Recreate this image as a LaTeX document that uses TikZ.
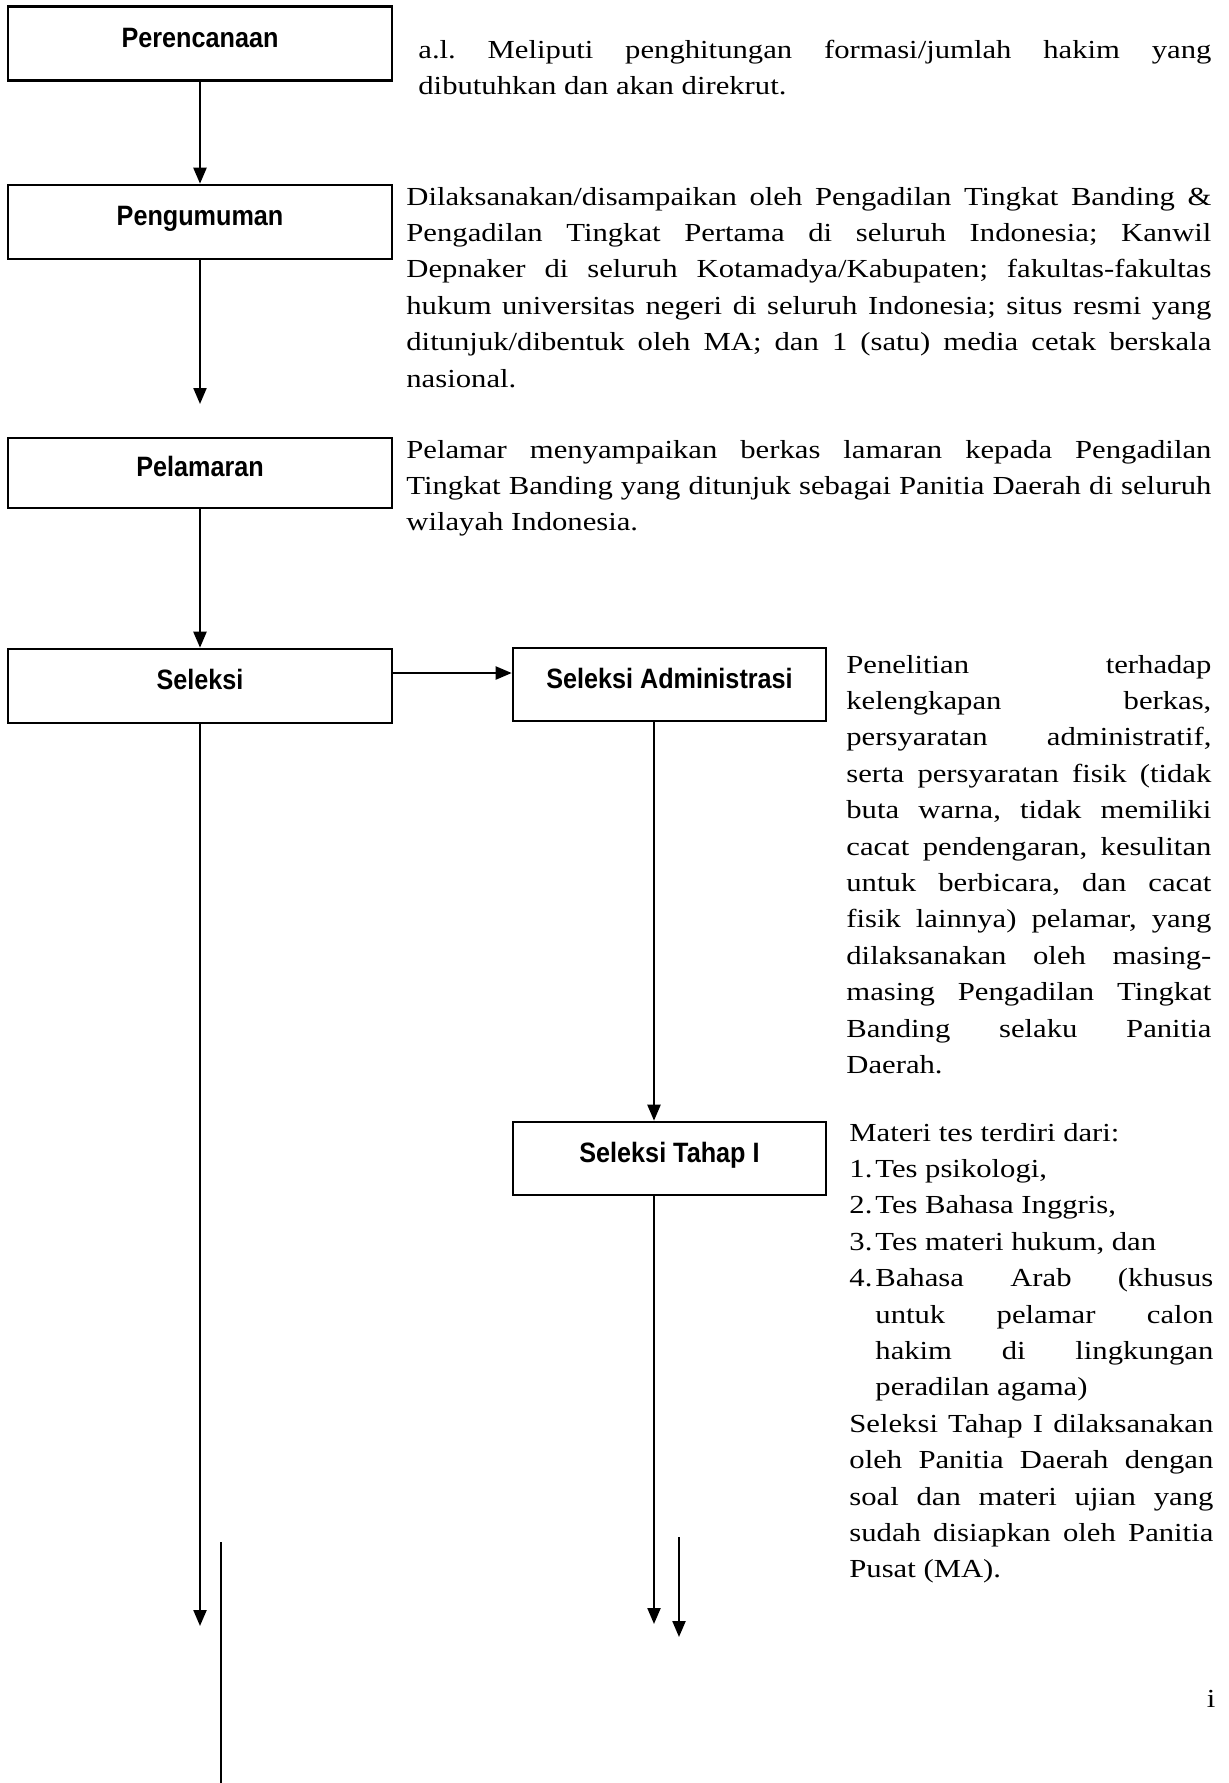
\documentclass[tikz,border=0pt]{standalone}
\usepackage{fontspec}
\usepackage{tikz}
\usetikzlibrary{arrows.meta}
\newfontfamily\kotakfont{Liberation Sans}[FakeStretch=0.9]
\newfontfamily\isifont{Liberation Serif}[FakeStretch=1.18]
\newcommand\isiteks{\isifont\fontsize{13}{18.2}\selectfont\frenchspacing
  \parindent=0pt\tolerance=10000\hyphenpenalty=10000\exhyphenpenalty=10000}
\newcommand\butir[2]{\par\hangindent=13pt\hangafter=1\noindent\makebox[13pt][l]{#1}#2\par}
\tikzset{>={Triangle[length=8pt,width=6.5pt]}}
\tikzset{kotak/.style = {draw,line width=1.3pt,minimum width=192pt,minimum height=37pt,inner sep=0pt,
    font=\kotakfont\bfseries\fontsize{14}{16}\selectfont,text height=9.5pt,text depth=6pt}}
\tikzset{ket/.style = {anchor=base west,inner sep=0pt,align=justify,font=\isiteks}}
\tikzset{panah/.style = {->,line width=1.1pt}}

\begin{document}
\begin{tikzpicture}[x=0.5pt,y=-0.5pt]
    \useasboundingbox (0,0) rectangle (1228,1783);

    \node[kotak] (rencana) at (200,43.5) {Perencanaan};
    \node[kotak] (umum) at (200,222) {Pengumuman};
    \node[kotak,minimum height=35pt] (lamar) at (200,473) {Pelamaran};
    \node[kotak] (seleksi) at (200,686) {Seleksi};
    \node[kotak,minimum width=156.5pt,minimum height=36.5pt] (adm) at (669.5,684.5) {Seleksi Administrasi};
    \node[kotak,minimum width=156.5pt,minimum height=36.5pt] (tahap) at (669.5,1158.5) {Seleksi Tahap I};

    \node[ket,text width=396.5pt] (ketrencana) at (418,58)
        {a.l. Meliputi penghitungan formasi/jumlah hakim yang\linebreak dibutuhkan dan akan direkrut.};
    \node[ket,text width=402.5pt] (ketumum) at (406,205)
        {Dilaksanakan/disampaikan oleh Pengadilan Tingkat Banding \&\linebreak
         Pengadilan Tingkat Pertama di seluruh Indonesia; Kanwil\linebreak
         Depnaker di seluruh Kotamadya/Kabupaten; fakultas-fakultas\linebreak
         hukum universitas negeri di seluruh Indonesia; situs resmi yang\linebreak
         ditunjuk/dibentuk oleh MA; dan 1 (satu) media cetak berskala\linebreak
         nasional.};
    \node[ket,text width=402.5pt] (ketlamar) at (406,458)
        {Pelamar menyampaikan berkas lamaran kepada Pengadilan\linebreak
         Tingkat Banding yang ditunjuk sebagai Panitia Daerah di seluruh\linebreak
         wilayah Indonesia.};
    \node[ket,text width=182.5pt] (ketadm) at (846,673)
        {Penelitian terhadap\linebreak kelengkapan berkas,\linebreak
         persyaratan administratif,\linebreak serta persyaratan fisik (tidak\linebreak
         buta warna, tidak memiliki\linebreak cacat pendengaran, kesulitan\linebreak
         untuk berbicara, dan cacat\linebreak fisik lainnya) pelamar, yang\linebreak
         dilaksanakan oleh masing-\linebreak masing Pengadilan Tingkat\linebreak
         Banding selaku Panitia\linebreak Daerah.};
    \node[ket,text width=182pt] (kettahap) at (849,1141)
        {Materi tes terdiri dari:\par
         \butir{1.}{Tes psikologi,}
         \butir{2.}{Tes Bahasa Inggris,}
         \butir{3.}{Tes materi hukum, dan}
         \butir{4.}{Bahasa Arab (khusus\linebreak untuk pelamar calon\linebreak
                    hakim di lingkungan\linebreak peradilan agama)}
         Seleksi Tahap I dilaksanakan\linebreak oleh Panitia Daerah dengan\linebreak
         soal dan materi ujian yang\linebreak sudah disiapkan oleh Panitia\linebreak
         Pusat (MA).};
    \node[font=\isiteks,anchor=base,inner sep=0pt] (hal) at (1211,1707) {i};

    \coordinate (ujungumum) at (200,404);
    \coordinate (ujungseleksi) at (200,1626);
    \coordinate (ujungtahap) at (654,1624);
    \coordinate (panahatas) at (679,1537);
    \coordinate (panahbawah) at (679,1637);
    \coordinate (garisatas) at (221,1542);
    \coordinate (garisbawah) at (221,1783);

    \draw[panah] (rencana) -- (umum);
    \draw[panah] (umum) -- (ujungumum);
    \draw[panah] (lamar) -- (seleksi);
    \draw[panah] ([yshift=6.5pt]seleksi.east) -- ([yshift=6.5pt]seleksi.east -| adm.west);
    \draw[panah] ([xshift=-7.75pt]adm.south) -- ([xshift=-7.75pt]tahap.north);
    \draw[panah] ([xshift=-7.75pt]tahap.south) -- (ujungtahap);
    \draw[panah] (seleksi) -- (ujungseleksi);
    \draw[panah] (panahatas) -- (panahbawah);
    \draw[line width=0.6pt] (garisatas) -- (garisbawah);
\end{tikzpicture}
\end{document}
